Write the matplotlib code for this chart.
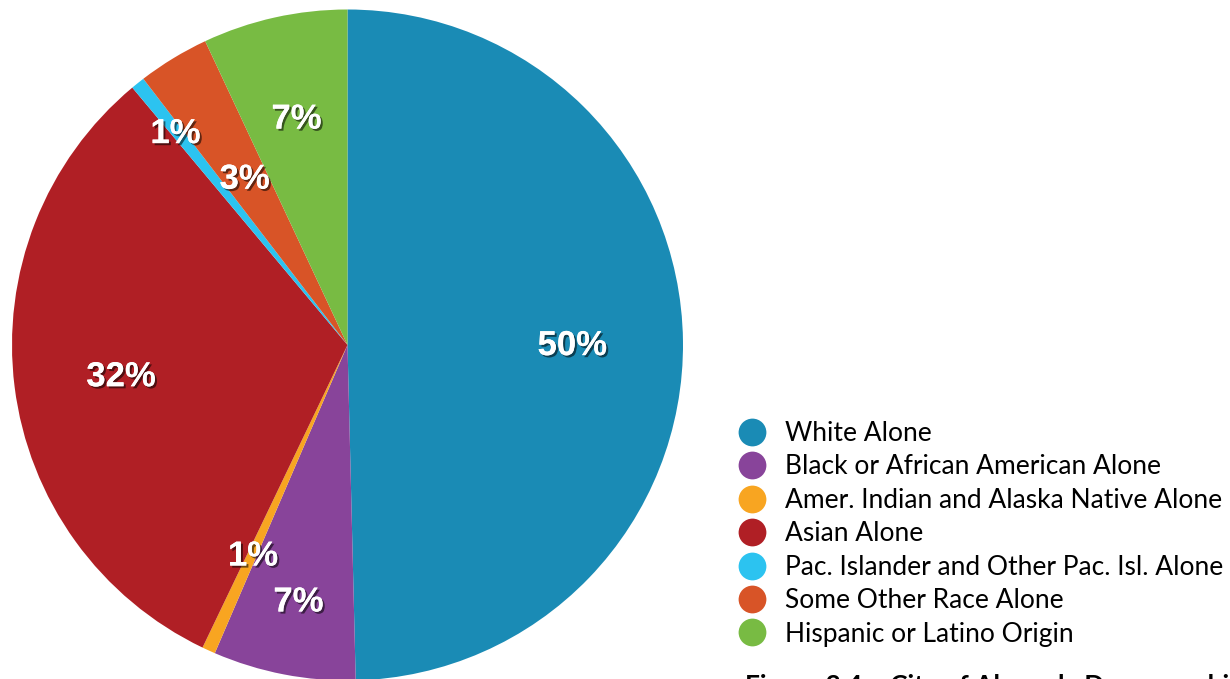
import matplotlib
matplotlib.use("Agg")
import matplotlib.pyplot as plt
import matplotlib.patheffects as pe
from matplotlib.lines import Line2D
import numpy as np

# --- DATA ---
categories = [
    "White Alone",
    "Black or African American Alone",
    "Amer. Indian and Alaska Native Alone",
    "Asian Alone",
    "Pac. Islander and Other Pac. Isl. Alone",
    "Some Other Race Alone",
    "Hispanic or Latino Origin",
]
shares = [49.6, 6.86, 0.64, 31.8, 0.67, 3.44, 6.97]
pct_labels = ["50%", "7%", "1%", "32%", "1%", "3%", "7%"]
colors = ["#1A8BB5", "#88449A", "#F8A521", "#B01F25", "#2CC3F0", "#D85427", "#78BB43"]

# radial position of each % label (fraction of radius)
label_r = [0.67, 0.77, 0.68, 0.68, 0.82, 0.59, 0.70]

W, H = 1230, 679
fig = plt.figure(figsize=(W / 100, H / 100), dpi=100)

# pie: centre at (347.5, 345) px from top-left, radius 335.5 px
cx, cy, r = 347.5, 345, 335.5
ax = fig.add_axes([(cx - r) / W, (H - cy - r) / H, 2 * r / W, 2 * r / H])
wedges, _ = ax.pie(shares, colors=colors, startangle=90, counterclock=False,
                   wedgeprops=dict(linewidth=0))
ax.set_xlim(-1, 1)
ax.set_ylim(-1, 1)
ax.set_aspect("equal")
ax.axis("off")

shadow = [pe.withSimplePatchShadow(offset=(1.5, -1.5), shadow_rgbFace="black", alpha=0.55),
          pe.Normal()]
for w, txt, d in zip(wedges, pct_labels, label_r):
    mid = np.radians((w.theta1 + w.theta2) / 2)
    ax.text(d * np.cos(mid), d * np.sin(mid) - 0.01, txt, ha="center", va="center",
            fontsize=25, fontweight="bold", color="white",
            family="Liberation Sans", path_effects=shadow)

# --- LEGEND ---
handles = [Line2D([], [], linestyle="none", marker="o", markersize=20,
                  markerfacecolor=c, markeredgewidth=0) for c in colors]
fig.legend(handles, categories, loc="upper left",
           bbox_to_anchor=(739 / W, 1 - 421 / H), frameon=False,
           prop={"family": "Lato", "size": 19},
           handlelength=1.0, handletextpad=0.74, labelspacing=0.32,
           borderpad=0, borderaxespad=0)

fig.text(745 / W, 1 - 674 / H, "Figure 3.4 \u2013 City of Alameda Demographics",
         ha="left", va="top", fontsize=19, fontweight="bold", family="Lato")

fig.savefig("out.png", dpi=100)
